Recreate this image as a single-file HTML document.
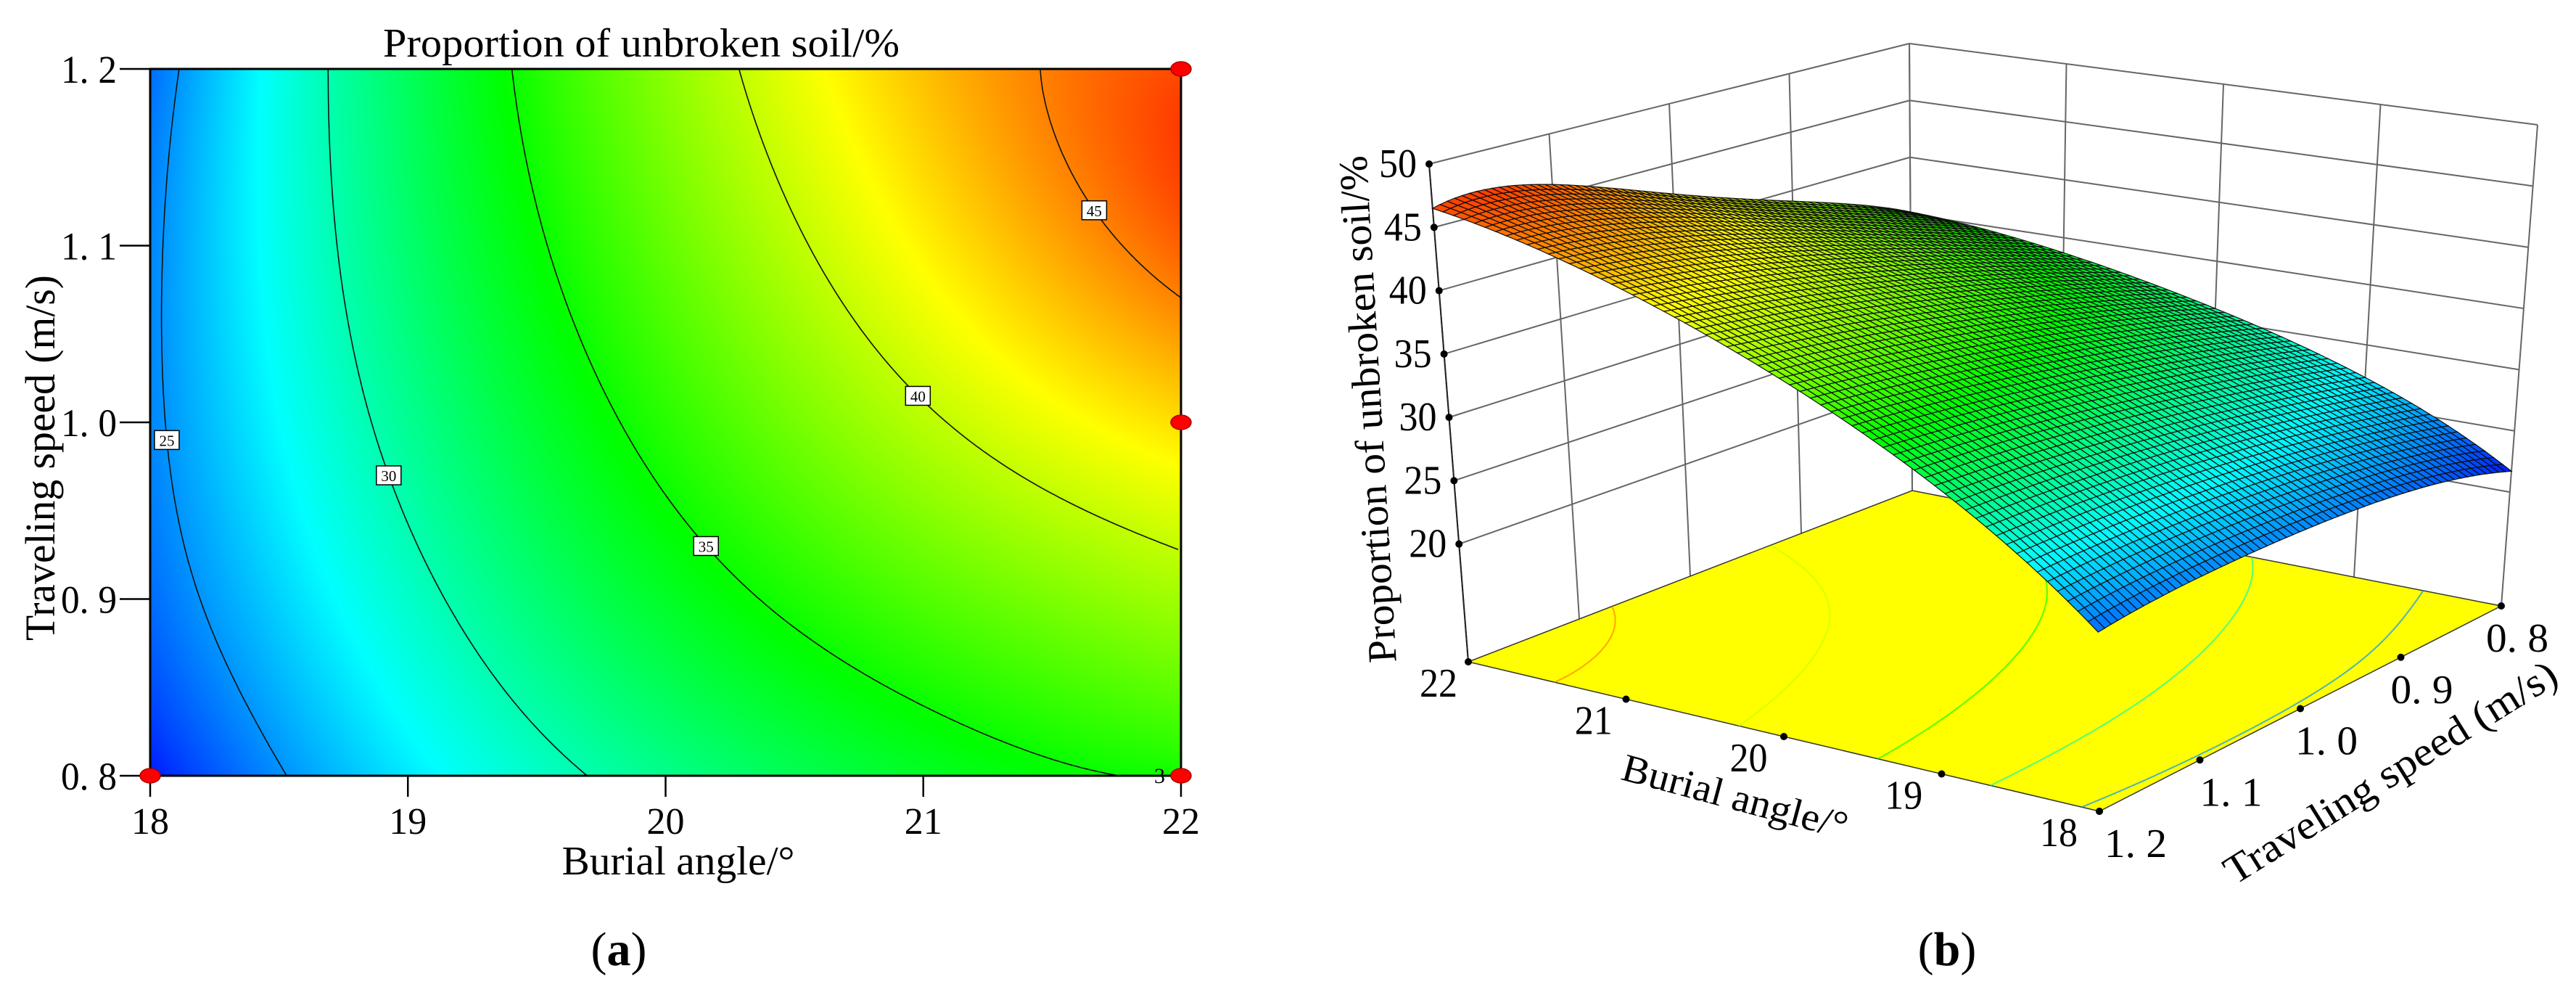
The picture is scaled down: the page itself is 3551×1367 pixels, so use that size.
<!DOCTYPE html>
<html><head><meta charset="utf-8">
<style>
html,body{margin:0;padding:0;background:#fff;}
#wrap{position:relative;width:3551px;height:1367px;overflow:hidden;background:#fff;}
canvas{position:absolute;left:207px;top:95px;}
svg{position:absolute;left:0;top:0;}
text{font-family:"Liberation Serif",serif;fill:#000;}
</style></head>
<body>
<div id="wrap">
<canvas id="heat" width="1421" height="974"></canvas>
<svg id="svg" width="3551" height="1367" viewBox="0 0 3551 1367" xmlns="http://www.w3.org/2000/svg">
  <g id="left"></g>
  <g id="right"></g>
  <text x="884" y="78" font-size="56" text-anchor="middle" textLength="712" lengthAdjust="spacingAndGlyphs">Proportion of unbroken soil/%</text>
  <text x="935" y="1205" font-size="56" text-anchor="middle" textLength="321" lengthAdjust="spacingAndGlyphs">Burial angle/°</text>
  <text transform="translate(75,631) rotate(-90)" font-size="58" text-anchor="middle" textLength="504" lengthAdjust="spacingAndGlyphs">Traveling speed (m/s)</text>
  <text x="853" y="1330" font-size="66" text-anchor="middle">(<tspan font-weight="bold">a</tspan>)</text>
  <text x="2684" y="1330" font-size="66" text-anchor="middle">(<tspan font-weight="bold">b</tspan>)</text>
  <text transform="translate(1904,563) rotate(-93.4)" font-size="56" text-anchor="middle" textLength="700" lengthAdjust="spacingAndGlyphs">Proportion of unbroken soil/%</text>
  <text transform="translate(2387,1115) rotate(15)" font-size="54" text-anchor="middle" textLength="320" lengthAdjust="spacingAndGlyphs">Burial angle/°</text>
  <text transform="translate(3305,1080) rotate(-32)" font-size="56" text-anchor="middle" textLength="530" lengthAdjust="spacingAndGlyphs">Traveling speed (m/s)</text>
</svg>
</div>
<script>
// ---- data ----
const angles = [18, 19, 20, 21, 22];
const speeds = [0.8, 0.9, 1.0, 1.1, 1.2];
const values = [
  [21.7, 27.3, 31.0, 33.7, 35.2],
  [23.9, 29.3, 33.7, 36.9, 39.1],
  [24.6, 30.8, 35.8, 39.7, 42.5],
  [24.6, 31.8, 37.4, 41.9, 45.9],
  [23.9, 32.3, 38.5, 43.3, 46.5]
];
const contourLevels = [25, 30, 35, 40, 45];
const labelSpeeds = [0.99, 0.97, 0.93, 1.015, 1.12];
const xTickLabels = ["18", "19", "20", "21", "22"];
const yTickLabels = ["0. 8", "0. 9", "1. 0", "1. 1", "1. 2"];
const designPointsA = [18, 22, 22, 22];
const designPointsS = [0.8, 0.8, 1.0, 1.2];
const zTicks = [20, 25, 30, 35, 40, 45, 50];
const zTickLabels = ["20", "25", "30", "35", "40", "45", "50"];
const speedTickLabels = ["1. 2", "1. 1", "1. 0", "0. 9", "0. 8"];

const NS = "http://www.w3.org/2000/svg";
function mk(tag, attrs, parent) {
  const e = document.createElementNS(NS, tag);
  for (const k in attrs) e.setAttribute(k, attrs[k]);
  parent.appendChild(e);
  return e;
}
function lag(xs, x, k) {
  let p = 1;
  for (let m = 0; m < xs.length; m++) if (m !== k) p *= (x - xs[m]) / (xs[k] - xs[m]);
  return p;
}
function f(a, s) {
  let r = 0;
  const la = angles.map((_, i) => lag(angles, a, i)), ls = speeds.map((_, j) => lag(speeds, s, j));
  for (let j = 0; j < speeds.length; j++) for (let i = 0; i < angles.length; i++) r += values[j][i] * la[i] * ls[j];
  return r;
}
const vmin = 21, vmax = 48.5;
const stops = [[0, 0, 255], [0, 255, 255], [0, 255, 0], [255, 255, 0], [255, 0, 0]];
function cmap(v) {
  let t = (v - vmin) / (vmax - vmin); t = Math.max(0, Math.min(0.9999, t));
  const k = Math.floor(t * 4), r = t * 4 - k, a = stops[k], b = stops[k + 1];
  return [a[0] + (b[0] - a[0]) * r, a[1] + (b[1] - a[1]) * r, a[2] + (b[2] - a[2]) * r];
}
function solveA(L, s) {
  let lo = angles[0], hi = angles[angles.length - 1];
  if (f(lo, s) > L || f(hi, s) < L) return null;
  for (let k = 0; k < 40; k++) { const m = (lo + hi) / 2; if (f(m, s) < L) lo = m; else hi = m; }
  return (lo + hi) / 2;
}

// ---- left contour plot ----
const X0 = 207, X1 = 1628, Y0 = 1069, Y1 = 95;
const xS = a => X0 + (a - 18) / 4 * (X1 - X0);
const yS = s => Y0 - (s - 0.8) / 0.4 * (Y0 - Y1);
(function heat() {
  const c = document.getElementById('heat'), ctx = c.getContext('2d');
  const W = c.width, H = c.height, img = ctx.createImageData(W, H);
  const la = [], ls = [];
  for (let px = 0; px < W; px++) { const a = 18 + px / (W - 1) * 4; la.push(angles.map((_, i) => lag(angles, a, i))); }
  for (let py = 0; py < H; py++) { const s = 1.2 - py / (H - 1) * 0.4; ls.push(speeds.map((_, j) => lag(speeds, s, j))); }
  for (let py = 0; py < H; py++) {
    const row = [0, 0, 0, 0, 0];
    for (let i = 0; i < 5; i++) for (let j = 0; j < 5; j++) row[i] += values[j][i] * ls[py][j];
    for (let px = 0; px < W; px++) {
      let v = 0; for (let i = 0; i < 5; i++) v += row[i] * la[px][i];
      const col = cmap(v), o = (py * W + px) * 4;
      img.data[o] = col[0]; img.data[o + 1] = col[1]; img.data[o + 2] = col[2]; img.data[o + 3] = 255;
    }
  }
  ctx.putImageData(img, 0, 0);
})();
const left = document.getElementById('left');
function contourPath(L, toXY) {
  let d = '', pen = false;
  for (let k = 0; k <= 300; k++) {
    const s = 0.8 + k / 300 * 0.4, a = solveA(L, s);
    if (a === null) { pen = false; continue; }
    const p = toXY(a, s);
    d += (pen ? 'L' : 'M') + p[0].toFixed(1) + ' ' + p[1].toFixed(1);
    pen = true;
  }
  return d;
}
contourLevels.forEach(L => {
  const p = mk('path', {d: contourPath(L, (a, s) => [xS(a), yS(s)]), fill: 'none', stroke: '#111', 'stroke-width': 1.6}, left);
  
  
});
contourLevels.forEach((L, idx) => {
  const a = solveA(L, labelSpeeds[idx]); if (a === null) return;
  const x = xS(a), y = yS(labelSpeeds[idx]);
  const g = mk('g', {}, left);
  
  
  mk('rect', {x: x - 17, y: y - 13, width: 34, height: 26, fill: '#fff', stroke: '#000', 'stroke-width': 1.5}, g);
  mk('text', {x: x, y: y + 8, 'font-size': 21, 'text-anchor': 'middle', 'font-family': 'Liberation Sans, sans-serif'}, g).textContent = String(L);
});
const frame = mk('rect', {x: X0, y: Y1, width: X1 - X0, height: Y0 - Y1, fill: 'none', stroke: '#000', 'stroke-width': 3}, left);


angles.forEach((a, i) => {
  const t = mk('line', {x1: xS(a), y1: Y0, x2: xS(a), y2: Y0 + 29, stroke: '#000', 'stroke-width': 2.5}, left);
  
  
  const tx = mk('text', {x: xS(a), y: 1149, 'font-size': 52, 'text-anchor': 'middle', textLength: 52, lengthAdjust: 'spacingAndGlyphs'}, left);
  tx.textContent = xTickLabels[i];
  
  
});
speeds.forEach((s, i) => {
  const t = mk('line', {x1: X0 - 42, y1: yS(s), x2: X0, y2: yS(s), stroke: '#000', 'stroke-width': 2.5}, left);
  
  
  const tx = mk('text', {x: 161, y: yS(s) + 19, 'font-size': 54, 'text-anchor': 'end', textLength: 77, lengthAdjust: 'spacingAndGlyphs'}, left);
  tx.textContent = yTickLabels[i];
  
  
});
designPointsA.forEach((a, i) => {
  const e = mk('ellipse', {cx: xS(a), cy: yS(designPointsS[i]), rx: 14, ry: 10, fill: '#f00', stroke: '#a00', 'stroke-width': 1.5}, left);
  
  
});
const three = mk('text', {x: xS(22) - 22, y: Y0 + 10, 'font-size': 30, 'text-anchor': 'end', 'font-family': 'Liberation Sans, sans-serif'}, left);
three.textContent = '3';



// ---- right 3D surface ----
const right = document.getElementById('right');
const CL = {f: [2024, 912], t: [1970, 226]}, CB = {f: [2636, 676], t: [2632, 60]},
      CR = {f: [3448, 835], t: [3498, 172]}, CF = {f: [2894, 1118], t: [2889, 383]};
const zF = 10.7, zT = 50;
function bil(key, u, v, k) {
  return (1 - u) * (1 - v) * CL[key][k] + u * (1 - v) * CF[key][k] + u * v * CR[key][k] + (1 - u) * v * CB[key][k];
}
function P(a, s, z) {
  const u = (22 - a) / 4, v = (1.2 - s) / 0.4, t = (z - zF) / (zT - zF);
  const fx = bil('f', u, v, 0), fy = bil('f', u, v, 1), tx = bil('t', u, v, 0), ty = bil('t', u, v, 1);
  return [fx + (tx - fx) * t, fy + (ty - fy) * t];
}
function line3(p, q, attrs, name) {
  const l = mk('line', Object.assign({x1: p[0], y1: p[1], x2: q[0], y2: q[1]}, attrs), right);
  
  
}
const grid = {stroke: '#666', 'stroke-width': 2};
zTicks.forEach(z => line3(P(22, 1.2, z), P(22, 0.8, z), grid, 'left-wall-gridline'));
speeds.forEach(s => line3(P(22, s, zF), P(22, s, zT), grid, 'left-wall-gridline'));
zTicks.forEach(z => line3(P(22, 0.8, z), P(18, 0.8, z), grid, 'right-wall-gridline'));
angles.forEach(a => line3(P(a, 0.8, zF), P(a, 0.8, zT), grid, 'right-wall-gridline'));
line3(P(22, 1.2, zF), P(22, 1.2, zT), {stroke: '#222', 'stroke-width': 2}, 'z-axis-line');
const fl = [P(22, 1.2, zF), P(18, 1.2, zF), P(18, 0.8, zF), P(22, 0.8, zF)];
const floor = mk('polygon', {points: fl.map(p => p.join(',')).join(' '), fill: '#ffff00', stroke: '#333', 'stroke-width': 1.5}, right);


contourLevels.forEach(L => {
  const c = cmap(L);
  const p = mk('path', {d: contourPath(L, (a, s) => P(a, s, zF)), fill: 'none', stroke: 'rgb(' + c.map(Math.round).join(',') + ')', 'stroke-width': 2, opacity: 0.7}, right);
  
  
});
const N = 64, quads = [];
for (let i = 0; i < N; i++) for (let j = 0; j < N; j++) {
  const a0 = 22 - i / N * 4, a1 = 22 - (i + 1) / N * 4, s0 = 0.8 + j / N * 0.4, s1 = 0.8 + (j + 1) / N * 0.4;
  quads.push({a0, a1, s0, s1, d: i + j});
}
quads.sort((p, q) => p.d - q.d);
const surf = mk('g', {stroke: '#0a0a0a', 'stroke-width': 1.3, 'stroke-opacity': 0.9}, right);


quads.forEach(q => {
  const pts = [[q.a0, q.s0], [q.a1, q.s0], [q.a1, q.s1], [q.a0, q.s1]];
  const vals = pts.map(p => f(p[0], p[1]));
  const avg = (vals[0] + vals[1] + vals[2] + vals[3]) / 4;
  const c = cmap(avg).map(Math.round);
  const pp = pts.map((p, k) => P(p[0], p[1], vals[k]).map(x => x.toFixed(1)).join(',')).join(' ');
  const poly = mk('polygon', {points: pp, fill: 'rgb(' + c.join(',') + ')'}, surf);
  
  
});
zTicks.forEach((z, k) => {
  const p = P(22, 1.2, z);
  const d = mk('circle', {cx: p[0], cy: p[1], r: 5, fill: '#000'}, right);
  
  
  const t = mk('text', {x: p[0] - 17, y: p[1] + 18, 'font-size': 56, 'text-anchor': 'end', textLength: 52, lengthAdjust: 'spacingAndGlyphs'}, right);
  t.textContent = zTickLabels[k];
  
  
});
angles.forEach((a, i) => {
  const p = P(a, 1.2, zF);
  const d = mk('circle', {cx: p[0], cy: p[1], r: 5, fill: '#000'}, right);
  
  
  const t = mk('text', {x: p[0] - 41 - (22 - a) / 4 * 15, y: p[1] + 48, 'font-size': 56, 'text-anchor': 'middle', textLength: 52, lengthAdjust: 'spacingAndGlyphs'}, right);
  t.textContent = xTickLabels[i];
  
  
});
speeds.slice().reverse().forEach((s, k) => {
  const p = P(18, s, zF);
  const d = mk('circle', {cx: p[0], cy: p[1], r: 5, fill: '#000'}, right);
  
  
  const t = mk('text', {x: p[0] + 22 + (s - 0.8) / 0.4 * 28, y: p[1] + 63, 'font-size': 56, 'text-anchor': 'middle', textLength: 86, lengthAdjust: 'spacingAndGlyphs'}, right);
  t.textContent = speedTickLabels[k];
  
  
});
</script>
</body></html>
